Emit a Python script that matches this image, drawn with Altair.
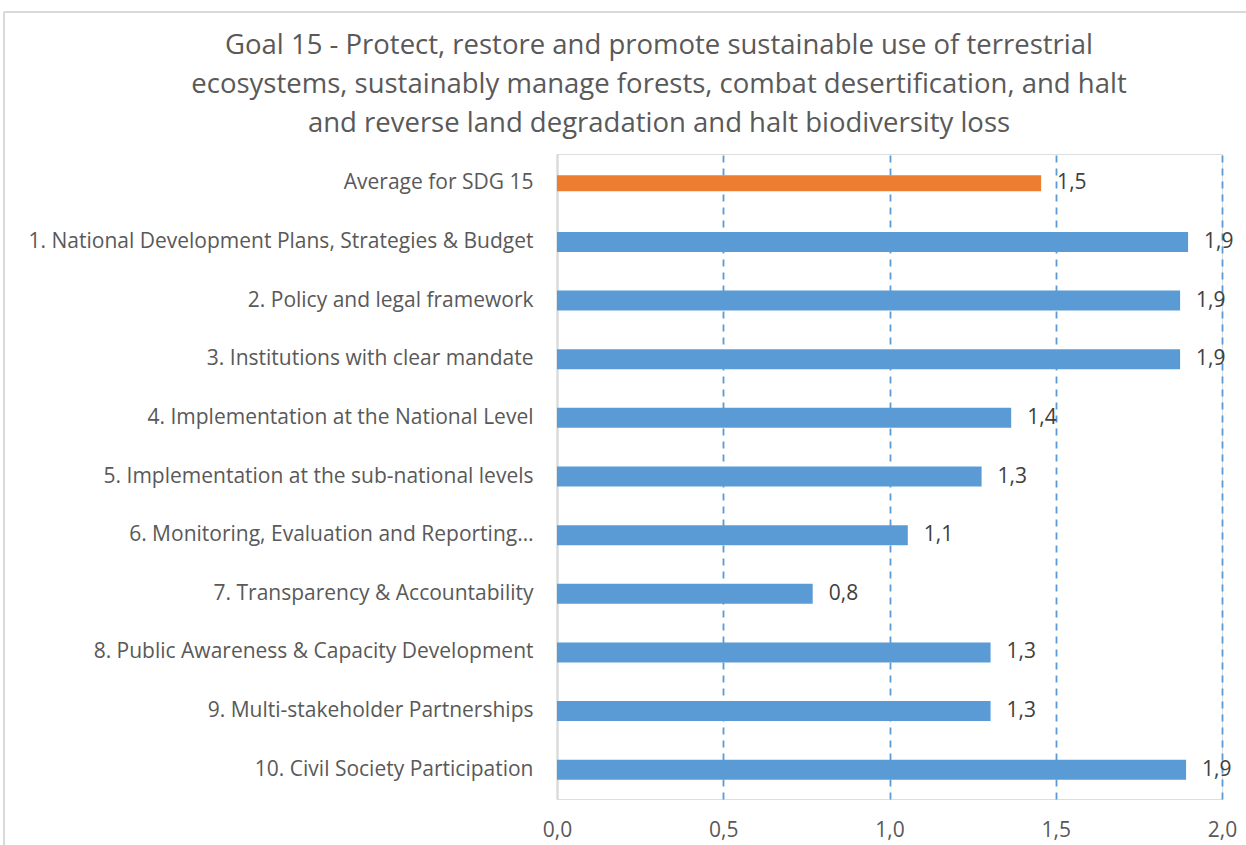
import altair as alt
import pandas as pd

categories = [
    "Average for SDG 15",
    "1. National Development Plans, Strategies & Budget",
    "2. Policy and legal framework",
    "3. Institutions with clear mandate",
    "4. Implementation at the National Level",
    "5. Implementation at the sub-national levels\u00a0",
    "6. Monitoring, Evaluation and Reporting…",
    "7. Transparency & Accountability\u00a0",
    "8. Public Awareness & Capacity Development\u00a0",
    "9. Multi-stakeholder Partnerships",
    "10. Civil Society Participation",
]
values = [1.456, 1.898, 1.874, 1.874, 1.366, 1.277, 1.055, 0.769, 1.304, 1.304, 1.892]
is_average = [True] + [False] * 10
x_ticks = [0, 0.5, 1.0, 1.5, 2.0]

title_lines = [
    "Goal 15 - Protect, restore and promote sustainable use of terrestrial",
    "ecosystems, sustainably manage forests, combat desertification, and halt",
    "and reverse land degradation and halt biodiversity loss",
]

df = pd.DataFrame({"cat": categories, "value": values, "avg": is_average})
title_df = pd.DataFrame({"title": ["\n".join(title_lines)]})

FONT = "Open Sans"
AXIS_GRAY = "#595959"

y_enc = alt.Y(
    "cat:N",
    sort=categories,
    title=None,
    scale=alt.Scale(paddingInner=0, paddingOuter=0),
    axis=alt.Axis(
        domain=True, domainColor="#d9d9d9", domainWidth=2,
        ticks=False, labelFontSize=21, labelColor=AXIS_GRAY, labelFont=FONT,
        labelPadding=24, labelLimit=600,
    ),
)
x_enc = alt.X(
    "value:Q",
    title=None,
    scale=alt.Scale(domain=[0, 2.0], nice=False, zero=True),
    axis=alt.Axis(
        values=x_ticks, domain=False, ticks=False, labelFlush=False,
        labelExpr="replace(format(datum.value, '.1f'), '.', ',')",
        labelFontSize=21, labelColor=AXIS_GRAY, labelFont=FONT, labelPadding=20,
        grid=True,
        gridColor={"condition": {"test": "datum.value === 0", "value": "#d9d9d9"}, "value": "#5B9BD5"},
        gridDash={"condition": {"test": "datum.value === 0", "value": []}, "value": [7, 6]},
        gridWidth=1.8,
    ),
)

base = alt.Chart(df).encode(y=y_enc)

bars_avg = base.mark_bar(color="#ED7D31", size=16).encode(x=x_enc).transform_filter("datum.avg")
bars_main = base.mark_bar(color="#5B9BD5", size=20).encode(x=x_enc).transform_filter("!datum.avg")

labels = base.mark_text(
    align="left", baseline="middle", dx=16, fontSize=21, font=FONT, color="#404040"
).encode(
    x=alt.X("value:Q"),
    text="lbl:N",
).transform_calculate(lbl="replace(format(datum.value, '.1f'), '.', ',')")

frame_v = alt.Chart(df).mark_rule(color="#d9d9d9", strokeWidth=2).encode(
    x=alt.value(-553), x2=alt.value(-553), y=alt.value(-142), y2=alt.value(700)
).transform_filter("datum.cat == 'Average for SDG 15'")
frame_h = alt.Chart(df).mark_rule(color="#d9d9d9", strokeWidth=2).encode(
    x=alt.value(-553), x2=alt.value(800), y=alt.value(-142)
).transform_filter("datum.cat == 'Average for SDG 15'")

title_text = alt.Chart(title_df).mark_text(
    align="center", baseline="alphabetic", lineBreak="\n", lineHeight=38.8,
    fontSize=27.5, font=FONT, color=AXIS_GRAY,
).encode(
    text="title:N",
    x=alt.value(102),
    y=alt.value(-100),
)

chart = alt.layer(frame_v, frame_h, bars_avg, bars_main, labels, title_text).properties(
    width=665,
    height=645,
    autosize=alt.AutoSizeParams(type="none"),
    padding={"left": 557, "top": 154, "right": 24, "bottom": 46},
).configure_view(stroke=None).configure(background="white")

chart.save("out.html", embed_options={"renderer": "svg", "actions": False})
